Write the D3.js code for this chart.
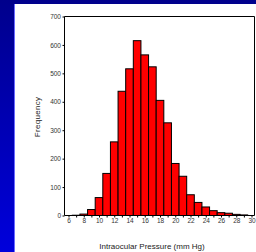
<!DOCTYPE html>
<html lang="en">
<head>
  <meta charset="UTF-8">
  <title>Intraocular Pressure Histogram</title>
  <script src="https://d3js.org/d3.v7.min.js"></script>
  <style>
    html, body { margin: 0; padding: 0; }
    body { width: 256px; height: 252px; overflow: hidden; }
    svg { display: block; font-family: "Liberation Sans", Arial, sans-serif; }
    .tick text { fill: #333; }
  </style>
</head>
<body>
  <div id="chart"></div>
  <script>
    // ------------------------ Data ------------------------
    const pressures = [7, 8, 9, 10, 11, 12, 13, 14, 15, 16, 17, 18, 19, 20, 21, 22, 23, 24, 25, 26, 27, 28, 29];
    const frequencies = [1, 5, 21, 63, 148, 259, 437, 516, 615, 565, 523, 405, 326, 183, 138, 73, 46, 30, 17, 10, 8, 4, 2];
    const xTicks = [6, 8, 10, 12, 14, 16, 18, 20, 22, 24, 26, 28, 30];
    const yTicks = [0, 100, 200, 300, 400, 500, 600, 700];

    // ------------------------ Setup ------------------------
    const W = 256, H = 252;
    const plot = { left: 64.5, right: 254.5, top: 16.5, bottom: 215.5 };

    const svg = d3.select("#chart").append("svg")
      .attr("width", W)
      .attr("height", H);

    // blue slide background
    const grad = svg.append("defs").append("linearGradient")
      .attr("id", "bg").attr("x1", 0).attr("y1", 0).attr("x2", 0).attr("y2", 1);
    grad.append("stop").attr("offset", "0%").attr("stop-color", "#00008c");
    grad.append("stop").attr("offset", "100%").attr("stop-color", "#0000dc");

    svg.append("rect").attr("width", W).attr("height", H).attr("fill", "url(#bg)");
    svg.append("rect").attr("x", 14).attr("y", 4).attr("width", 1).attr("height", H).attr("fill", "#6a6aff");
    svg.append("rect").attr("x", 15).attr("y", 4).attr("width", W - 15).attr("height", H - 4).attr("fill", "#fff");

    // ------------------------ Scales ------------------------
    const x = d3.scaleLinear().domain([6, 30]).range([68.5, 251.5]);
    const y = d3.scaleLinear().domain([0, 700]).range([plot.bottom, plot.top]);
    const unit = x(1) - x(0);

    // ------------------------ Bars ------------------------
    svg.append("g").selectAll("rect")
      .data(pressures.map((p, i) => ({ p, f: frequencies[i] })))
      .enter().append("rect")
      .attr("x", d => x(d.p - 0.5))
      .attr("y", d => y(d.f))
      .attr("width", unit)
      .attr("height", d => y(0) - y(d.f))
      .attr("fill", "#ff0000")
      .attr("stroke", "#000")
      .attr("stroke-width", 1);

    // ------------------------ Frame ------------------------
    svg.append("path")
      .attr("d", `M${plot.left},${plot.bottom}V${plot.top}H${plot.right}V${plot.bottom}H${plot.left}`)
      .attr("fill", "none")
      .attr("stroke", "#000")
      .attr("stroke-width", 1);

    // ------------------------ Axes ------------------------
    const yAxis = svg.append("g")
      .attr("transform", `translate(${plot.left},0)`)
      .call(d3.axisLeft(y).tickValues(yTicks).tickSize(2).tickPadding(1.5));
    yAxis.select(".domain").remove();
    yAxis.selectAll("text").attr("font-size", 6.5);

    const xAxisMinor = svg.append("g")
      .attr("transform", `translate(0,${plot.bottom})`)
      .call(d3.axisBottom(x).tickValues(d3.range(6, 31)).tickSize(2).tickFormat(""));
    xAxisMinor.select(".domain").remove();

    const xAxis = svg.append("g")
      .attr("transform", `translate(0,${plot.bottom})`)
      .call(d3.axisBottom(x).tickValues(xTicks).tickSize(0).tickPadding(3));
    xAxis.select(".domain").remove();
    xAxis.selectAll("text").attr("font-size", 6.5);

    // ------------------------ Titles ------------------------
    svg.append("text")
      .attr("x", 152).attr("y", 249)
      .attr("text-anchor", "middle")
      .attr("font-size", 8)
      .attr("fill", "#222")
      .text("Intraocular Pressure (mm Hg)");

    svg.append("text")
      .attr("transform", `translate(40,117) rotate(-90)`)
      .attr("text-anchor", "middle")
      .attr("font-size", 8)
      .attr("letter-spacing", 0.3)
      .attr("fill", "#222")
      .text("Frequency");
  </script>
</body>
</html>
